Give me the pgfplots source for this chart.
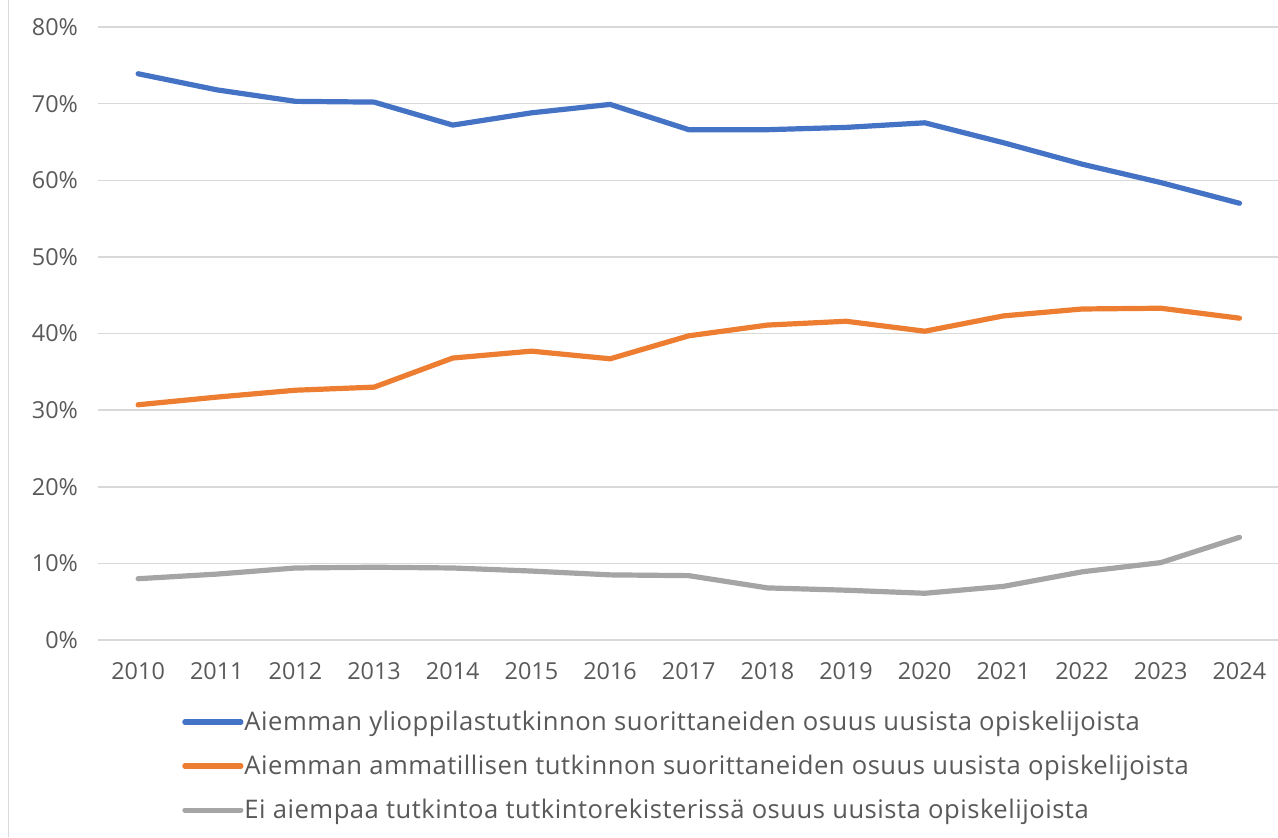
\documentclass[border=0pt]{standalone}
\usepackage{pgfplots}
\pgfplotsset{compat=1.18}
\usepackage{fontspec}
\setmainfont{Open Sans}
\newfontfamily\legfont[LetterSpace=2.0]{Open Sans}
\definecolor{cblue}{HTML}{4472C4}
\definecolor{corange}{HTML}{ED7D31}
\definecolor{cgray}{HTML}{A5A5A5}
\definecolor{ctext}{HTML}{595959}
\definecolor{cgrid}{HTML}{D9D9D9}
\begin{document}
\begin{tikzpicture}
\useasboundingbox (-49pt,-98.5pt) rectangle (590pt,320pt);
\draw[cgrid, line width=0.75pt] (-44.75pt,-98.5pt) -- (-44.75pt,320pt);
\begin{axis}[
  at={(0,0)}, anchor=south west,
  scale only axis,
  width=590pt, height=306.5pt,
  xmin=2009.49, xmax=2024.49,
  ymin=0, ymax=80,
  xtick={2010,...,2024},
  ytick={0,10,...,80},
  yticklabel={\pgfmathprintnumber{\tick}\%},
  /pgf/number format/1000 sep={},
  /pgf/number format/assume math mode=true,
  tick style={draw=none},
  axis line style={draw=none},
  ymajorgrids, xmajorgrids=false,
  major grid style={cgrid, line width=0.75pt},
  tick label style={font=\fontsize{11.7}{13}\selectfont, text=ctext},
  yticklabel style={xshift=-6.5pt},
  xticklabel style={yshift=-7.5pt},
  legend style={
    at={(0.066,-0.105)}, anchor=north west,
    draw=none, fill=none,
    font=\legfont\fontsize{12.8}{14}\selectfont, text=ctext,
    cells={anchor=west},
    row sep=8.8pt,
    nodes={inner xsep=0.5pt, inner ysep=1pt},
  },
  legend image code/.code={\draw[#1, line cap=round] (0pt,0pt) -- (28pt,0pt);},
  every axis plot/.append style={line width=2.6pt, line join=round, line cap=round},
]
\addplot[cblue] coordinates {
(2010,73.9) (2011,71.8) (2012,70.3) (2013,70.2) (2014,67.2) (2015,68.8) (2016,69.9)
(2017,66.6) (2018,66.6) (2019,66.9) (2020,67.5) (2021,64.9) (2022,62.1) (2023,59.7) (2024,57.0)};
\addlegendentry{Aiemman ylioppilastutkinnon suorittaneiden osuus uusista opiskelijoista}
\addplot[corange] coordinates {
(2010,30.7) (2011,31.7) (2012,32.6) (2013,33.0) (2014,36.8) (2015,37.7) (2016,36.7)
(2017,39.7) (2018,41.1) (2019,41.6) (2020,40.3) (2021,42.3) (2022,43.2) (2023,43.3) (2024,42.0)};
\addlegendentry{Aiemman ammatillisen tutkinnon suorittaneiden osuus uusista opiskelijoista}
\addplot[cgray] coordinates {
(2010,8.0) (2011,8.6) (2012,9.4) (2013,9.5) (2014,9.4) (2015,9.0) (2016,8.5)
(2017,8.4) (2018,6.8) (2019,6.5) (2020,6.1) (2021,7.0) (2022,8.9) (2023,10.1) (2024,13.4)};
\addlegendentry{Ei aiempaa tutkintoa tutkintorekisterissä osuus uusista opiskelijoista}
\end{axis}
\end{tikzpicture}
\end{document}
